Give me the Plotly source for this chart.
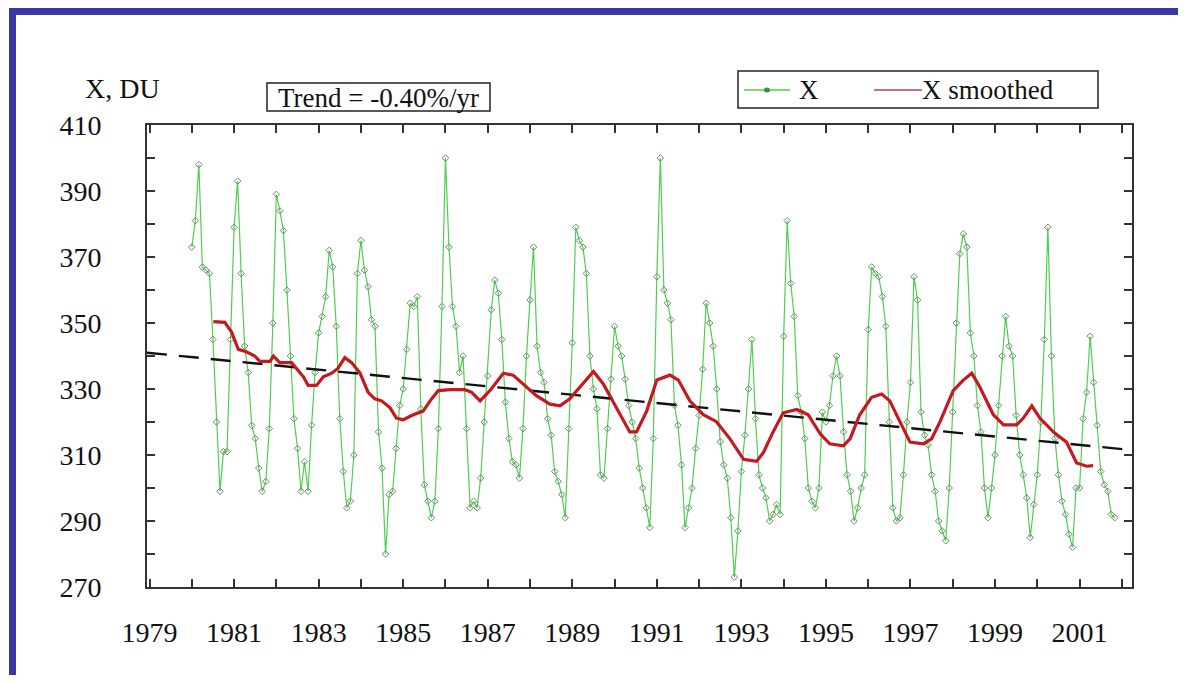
import plotly.graph_objects as go

# ---------------- data ----------------
start_year = 1980  # first monthly value = Jan 1980
x_monthly = [
    373, 381, 398, 367, 366, 365, 345, 320, 299, 311, 311, 345,   # 1980
    379, 393, 365, 343, 335, 319, 315, 306, 299, 302, 318, 350,   # 1981
    389, 384, 378, 360, 340, 321, 312, 299, 308, 299, 319, 335,   # 1982
    347, 352, 358, 372, 367, 349, 321, 305, 294, 296, 310, 365,   # 1983
    375, 366, 361, 351, 349, 317, 306, 280, 298, 299, 312, 325,   # 1984
    330, 342, 356, 355, 358, 324, 301, 296, 291, 296, 318, 355,   # 1985
    400, 373, 355, 349, 335, 340, 318, 294, 296, 294, 303, 320,   # 1986
    334, 354, 363, 359, 345, 326, 315, 308, 307, 303, 318, 340,   # 1987
    357, 373, 343, 335, 332, 321, 316, 305, 302, 298, 291, 318,   # 1988
    344, 379, 375, 373, 365, 340, 330, 324, 304, 303, 318, 333,   # 1989
    349, 343, 340, 333, 325, 320, 315, 306, 300, 294, 288, 315,   # 1990
    364, 400, 360, 356, 351, 325, 319, 307, 288, 294, 300, 312,   # 1991
    322, 336, 356, 350, 343, 330, 314, 307, 303, 291, 273, 287,   # 1992
    305, 316, 330, 345, 321, 304, 300, 297, 290, 292, 295, 292,   # 1993
    346, 381, 362, 352, 328, 323, 315, 300, 296, 294, 300, 323,   # 1994
    320, 325, 334, 340, 334, 317, 304, 299, 290, 294, 300, 304,   # 1995
    348, 367, 365, 364, 358, 349, 320, 294, 290, 291, 304, 320,   # 1996
    332, 364, 357, 323, 316, 313, 304, 299, 290, 287, 284, 300,   # 1997
    323, 350, 371, 377, 373, 347, 340, 325, 317, 300, 291, 300,   # 1998
    310, 325, 340, 352, 343, 340, 322, 310, 304, 297, 285, 295,   # 1999
    304, 320, 345, 379, 340, 315, 304, 296, 292, 286, 282, 300,   # 2000
    300, 321, 329, 346, 332, 319, 305, 301, 299, 292, 291,        # 2001
]

smooth_years = [
    1980.51, 1980.78, 1980.94, 1981.10, 1981.29, 1981.49, 1981.61, 1981.85, 1981.93,
    1982.08, 1982.36, 1982.48, 1982.64, 1982.75, 1982.95, 1983.11, 1983.31, 1983.46,
    1983.62, 1983.78, 1983.98, 1984.17, 1984.33, 1984.49, 1984.69, 1984.84, 1985.00,
    1985.24, 1985.47, 1985.67, 1985.83, 1986.11, 1986.46, 1986.62, 1986.82, 1987.05,
    1987.37, 1987.60, 1987.84, 1988.15, 1988.47, 1988.71, 1988.94, 1989.26, 1989.50,
    1989.73, 1990.05, 1990.36, 1990.52, 1990.76, 1991.00, 1991.31, 1991.51, 1991.78,
    1992.10, 1992.41, 1992.73, 1993.05, 1993.36, 1993.52, 1993.75, 1993.99, 1994.31,
    1994.58, 1994.86, 1995.09, 1995.41, 1995.57, 1995.80, 1996.08, 1996.32, 1996.51,
    1996.75, 1996.99, 1997.30, 1997.50, 1997.70, 1998.01, 1998.25, 1998.45, 1998.64,
    1998.96, 1999.20, 1999.51, 1999.67, 1999.87, 2000.06, 2000.38, 2000.69, 2000.93,
    2001.17, 2001.32,
]
smooth_values = [
    350.4, 350.2, 347.3, 342.0, 341.3, 340.0, 338.4, 338.4, 340.0,
    338.0, 338.0, 336.3, 333.7, 331.1, 331.1, 333.7, 334.8, 336.3,
    339.5, 338.0, 334.8, 329.0, 327.0, 326.4, 324.3, 321.2, 320.7,
    322.2, 323.3, 327.0, 329.5, 329.8, 329.8, 329.0, 326.4, 329.5,
    334.8, 334.2, 331.6, 328.0, 325.4, 324.9, 327.0, 331.6, 335.3,
    331.6, 324.3, 317.0, 317.0, 323.3, 332.7, 334.2, 332.7, 326.4,
    322.2, 320.1, 314.9, 308.7, 308.1, 310.7, 317.0, 322.8, 323.8,
    322.2, 316.5, 313.4, 312.8, 314.9, 322.2, 327.5, 328.5, 326.4,
    320.1, 313.9, 313.4, 314.9, 320.1, 329.5, 332.7, 334.8, 330.6,
    322.2, 319.1, 319.1, 321.2, 324.9, 321.2, 317.0, 313.9, 307.6,
    306.6, 306.8,
]

trend_years = [1978.94, 2002.24]
trend_values = [341.0, 311.5]

x_tick_years = list(range(1979, 2003))
x_tick_labels = ["1979", "", "1981", "", "1983", "", "1985", "", "1987", "", "1989", "",
                 "1991", "", "1993", "", "1995", "", "1997", "", "1999", "", "2001", ""]
y_tick_values = list(range(270, 411, 10))
y_tick_labels = ["270", "", "290", "", "310", "", "330", "", "350", "", "370", "", "390", "", "410"]

y_title = "X, DU"
trend_text = "Trend = -0.40%/yr"
series_names = ["X", "X smoothed"]

# ---------------- layout geometry (screen pixels) ----------------
SCREEN_W, SCREEN_H = 1186, 683
PAGE_MARGIN = 8                       # default body margin of the html page
W, H = SCREEN_W - 2 * PAGE_MARGIN, SCREEN_H - 2 * PAGE_MARGIN
L, R, T, B = 147, 1132, 125, 587      # plot area, screen px


def px_x(p):
    return (p - L) / (R - L)


def px_y(p):
    return (B - p) / (B - T)


FONT = "Liberation Serif"
GREEN = "#4fcf4f"
RED = "#c21a1e"
t_monthly = [start_year + i / 12 for i in range(len(x_monthly))]

fig = go.Figure()
fig.add_trace(go.Scatter(
    x=t_monthly, y=x_monthly, mode="lines+markers", name=series_names[0], showlegend=False,
    line=dict(color=GREEN, width=1.2),
    marker=dict(symbol="diamond-open", size=5, color="#6f8a6f", line=dict(width=1)),
))
fig.add_trace(go.Scatter(
    x=trend_years, y=trend_values, mode="lines", showlegend=False,
    line=dict(color="#111111", width=2.4, dash="20px,12px"),
))
fig.add_trace(go.Scatter(
    x=smooth_years, y=smooth_values, mode="lines", name=series_names[1], showlegend=False,
    line=dict(color=RED, width=3.2),
))

BLUE = "#3b37a6"
shapes = [
    # blue window frame (top and left)
    dict(type="rect", xref="paper", yref="paper", x0=px_x(9), x1=px_x(16), y0=px_y(SCREEN_H + 5), y1=px_y(8),
         fillcolor=BLUE, line=dict(width=0), layer="above"),
    dict(type="rect", xref="paper", yref="paper", x0=px_x(9), x1=px_x(SCREEN_W + 5), y0=px_y(15), y1=px_y(8),
         fillcolor=BLUE, line=dict(width=0), layer="above"),
    # trend box
    dict(type="rect", xref="paper", yref="paper", x0=px_x(267), x1=px_x(490), y0=px_y(111), y1=px_y(83),
         fillcolor="white", line=dict(color="#222", width=1.5)),
    # legend box
    dict(type="rect", xref="paper", yref="paper", x0=px_x(738), x1=px_x(1098), y0=px_y(108), y1=px_y(71),
         fillcolor="white", line=dict(color="#222", width=1.5)),
    # legend samples
    dict(type="line", xref="paper", yref="paper", x0=px_x(744), x1=px_x(790), y0=px_y(90), y1=px_y(90),
         line=dict(color=GREEN, width=1.6)),
    dict(type="circle", xref="paper", yref="paper", x0=px_x(764), x1=px_x(770), y0=px_y(92.5), y1=px_y(87.5),
         fillcolor="#2f9a3a", line=dict(width=0)),
    dict(type="line", xref="paper", yref="paper", x0=px_x(874), x1=px_x(922), y0=px_y(90), y1=px_y(90),
         line=dict(color="#b8405e", width=1.6)),
]

annotations = [
    dict(text=y_title, xref="paper", yref="paper", x=px_x(83), y=px_y(88), xanchor="left", yanchor="middle",
         showarrow=False, font=dict(family=FONT, size=28, color="#111")),
    dict(text=trend_text, xref="paper", yref="paper", x=px_x(378.5), y=px_y(97.5), xanchor="center",
         yanchor="middle", showarrow=False, font=dict(family=FONT, size=27, color="#111")),
    dict(text=series_names[0], xref="paper", yref="paper", x=px_x(797), y=px_y(90), xanchor="left",
         yanchor="middle", showarrow=False, font=dict(family=FONT, size=27, color="#111")),
    dict(text=series_names[1], xref="paper", yref="paper", x=px_x(920), y=px_y(90), xanchor="left",
         yanchor="middle", showarrow=False, font=dict(family=FONT, size=27, color="#111")),
]

fig.update_layout(
    width=W, height=H,
    margin=dict(l=L - PAGE_MARGIN, r=(PAGE_MARGIN + W) - R, t=T - PAGE_MARGIN, b=(PAGE_MARGIN + H) - B,
                autoexpand=False),
    paper_bgcolor="white", plot_bgcolor="white",
    font=dict(family=FONT, size=28, color="#111"),
    shapes=shapes, annotations=annotations, showlegend=False,
)

fig.update_xaxes(
    range=[1978.94, 2002.24], tickvals=x_tick_years, ticktext=x_tick_labels,
    ticks="inside", ticklen=8, tickwidth=2, tickcolor="#333",
    showline=True, linecolor="#333", linewidth=2, mirror="ticks",
    showgrid=False, zeroline=False, ticklabelstandoff=19,
    tickfont=dict(family=FONT, size=28, color="#111"),
)
fig.update_yaxes(
    range=[270, 410], tickvals=y_tick_values, ticktext=y_tick_labels,
    ticks="inside", ticklen=8, tickwidth=2, tickcolor="#333",
    showline=True, linecolor="#333", linewidth=2, mirror="ticks",
    showgrid=False, zeroline=False, ticklabelstandoff=38,
    tickfont=dict(family=FONT, size=28, color="#111"),
)

fig.write_html("out.html")
